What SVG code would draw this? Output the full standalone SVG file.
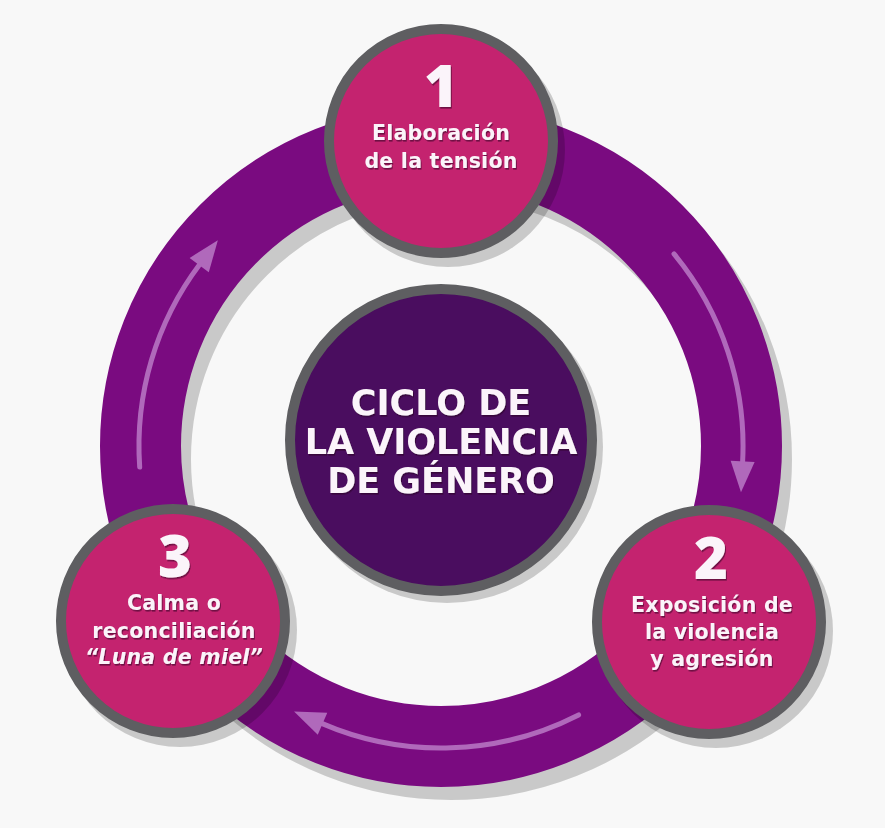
<svg xmlns="http://www.w3.org/2000/svg" width="885" height="828" viewBox="0 0 885 828">
  <defs>
    <style>
      .shadow { fill: #000; opacity: 0.19; }
      .node { fill: #c4236f; stroke: #5e5e61; stroke-width: 10; }
      .hub { fill: #4a0d5f; stroke: #5e5e61; stroke-width: 10; }
      .num { font-family: "Open Sans", "DejaVu Sans", sans-serif; font-weight: 800; font-size: 58px; fill: #fbf4fa; text-anchor: middle; filter: url(#ts); }
      .lbl { font-family: "DejaVu Sans", "Open Sans", sans-serif; font-weight: bold; font-size: 20.5px; letter-spacing: 0.25px; fill: #fbf4fa; text-anchor: middle; filter: url(#ts); }
      .lbl-i { font-style: italic; }
      .title { font-family: "DejaVu Sans", "Open Sans", sans-serif; font-weight: bold; font-size: 35px; fill: #fbf4fa; text-anchor: middle; filter: url(#ts); }
      .arrow { fill: none; stroke: #b069bb; stroke-width: 5; stroke-linecap: round; marker-end: url(#head); }
    </style>
    <filter id="ts" x="-10%" y="-20%" width="120%" height="150%">
      <feDropShadow dx="1" dy="1.6" stdDeviation="0.5" flood-color="#2a0620" flood-opacity="0.55"/>
    </filter>
    <marker id="head" markerUnits="userSpaceOnUse" markerWidth="34" markerHeight="26" viewBox="0 -13 34 26" refX="0" refY="0" orient="auto" overflow="visible">
      <path d="M-1,-12 L30,0 L-1,12 Z" fill="#b069bb"/>
    </marker>
  </defs>

  <rect width="885" height="828" fill="#f8f8f8"/>

  <g id="cycle-ring">
    <circle cx="451" cy="459" r="300.5" fill="none" stroke="#000" stroke-opacity="0.19" stroke-width="81"/>
    <circle cx="441" cy="446" r="300.5" fill="none" stroke="#7a0b80" stroke-width="81"/>
  </g>

  <g id="connectors">
    <path class="arrow" d="M139.7,467.1 A302,302 0 0 1 199.8,264.3"/>
    <path class="arrow" d="M674.0,253.9 A302,302 0 0 1 742.6,462.3"/>
    <path class="arrow" d="M578.6,714.9 A302,302 0 0 1 321.6,723.4"/>
  </g>

  <g id="center">
    <circle class="shadow" cx="447" cy="447" r="156"/>
    <circle class="hub" cx="441" cy="440" r="151"/>
    <text class="title" x="441" y="415">CICLO DE</text>
    <text class="title" x="441" y="454">LA VIOLENCIA</text>
    <text class="title" x="441" y="493">DE GÉNERO</text>
  </g>

  <g id="node1">
    <circle class="shadow" cx="448" cy="150" r="117"/>
    <circle class="node" cx="441" cy="141" r="112"/>
    <text class="num" x="441" y="107">1</text>
    <text class="lbl" x="441" y="140">Elaboración</text>
    <text class="lbl" x="441" y="168">de la tensión</text>
  </g>

  <g id="node2">
    <circle class="shadow" cx="716" cy="631" r="117"/>
    <circle class="node" cx="709" cy="622" r="112"/>
    <text class="num" x="711" y="579">2</text>
    <text class="lbl" x="712" y="612">Exposición de</text>
    <text class="lbl" x="712" y="639">la violencia</text>
    <text class="lbl" x="712" y="666">y agresión</text>
  </g>

  <g id="node3">
    <circle class="shadow" cx="180" cy="630" r="117"/>
    <circle class="node" cx="173" cy="621" r="112"/>
    <text class="num" x="175" y="577">3</text>
    <text class="lbl" x="174" y="610">Calma o</text>
    <text class="lbl" x="174" y="638">reconciliación</text>
    <text class="lbl lbl-i" x="174" y="664">“Luna de miel”</text>
  </g>
</svg>
